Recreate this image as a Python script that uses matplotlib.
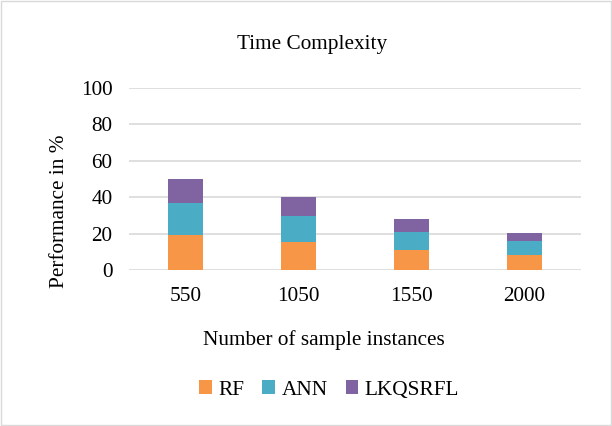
import matplotlib
matplotlib.use("Agg")
import matplotlib.pyplot as plt
import numpy as np

categories = ["550", "1050", "1550", "2000"]
rf = [19.3, 15.2, 11.0, 8.1]
ann = [17.4, 14.5, 9.7, 7.9]
lkq = [13.4, 10.6, 7.2, 4.4]
series_names = ["RF", "ANN", "LKQSRFL"]
colors = ["#F79646", "#4BACC6", "#8064A2"]

plt.rcParams['font.family'] = ['Liberation Serif', 'DejaVu Serif']
FS = 15.3

fig = plt.figure(figsize=(6.12, 4.26), dpi=100)
ax = fig.add_axes([129/612, 1-270/426, (581-129)/612, (270-88)/426])

x = np.arange(len(categories))
w = 0.31
b1 = ax.bar(x, rf, w, color=colors[0], label=series_names[0], zorder=3)
b2 = ax.bar(x, ann, w, bottom=rf, color=colors[1], label=series_names[1], zorder=3)
bottom2 = np.array(rf) + np.array(ann)
b3 = ax.bar(x, lkq, w, bottom=bottom2, color=colors[2], label=series_names[2], zorder=3)

ax.set_xlim(-0.5, len(categories) - 0.5)
ax.set_ylim(0, 100)
ax.set_yticks(range(0, 101, 20))
ax.set_xticks(x)
ax.set_xticklabels(categories)
ax.yaxis.grid(True, color="#d9d9d9", linewidth=1.2, zorder=0)
for s in ax.spines.values():
    s.set_visible(False)
ax.tick_params(axis='both', length=0, labelsize=FS, colors="#000000")
ax.tick_params(axis='x', pad=12)
ax.tick_params(axis='y', pad=12)

fig.text(60/612, 1-211/426, "Performance in %", ha="center", va="center",
         rotation=90, fontsize=FS)
fig.text(324/612, 1-340/426, "Number of sample instances", ha="center", va="center", fontsize=FS)
fig.text(312/612, 1-44/426, "Time Complexity", ha="center", va="center", fontsize=FS)

leg = fig.legend(handles=[b1, b2, b3], labels=series_names, loc="center",
                 bbox_to_anchor=(329/612, 1-390/426), ncol=3, frameon=False,
                 fontsize=FS, handlelength=0.6, handleheight=0.6, handletextpad=0.3,
                 columnspacing=0.85)

fig.patches.append(plt.Rectangle((0.002, 0.002), 0.996, 0.996, transform=fig.transFigure,
                                 fill=False, edgecolor="#d9d9d9", linewidth=1))
fig.savefig("out.png", dpi=100)
